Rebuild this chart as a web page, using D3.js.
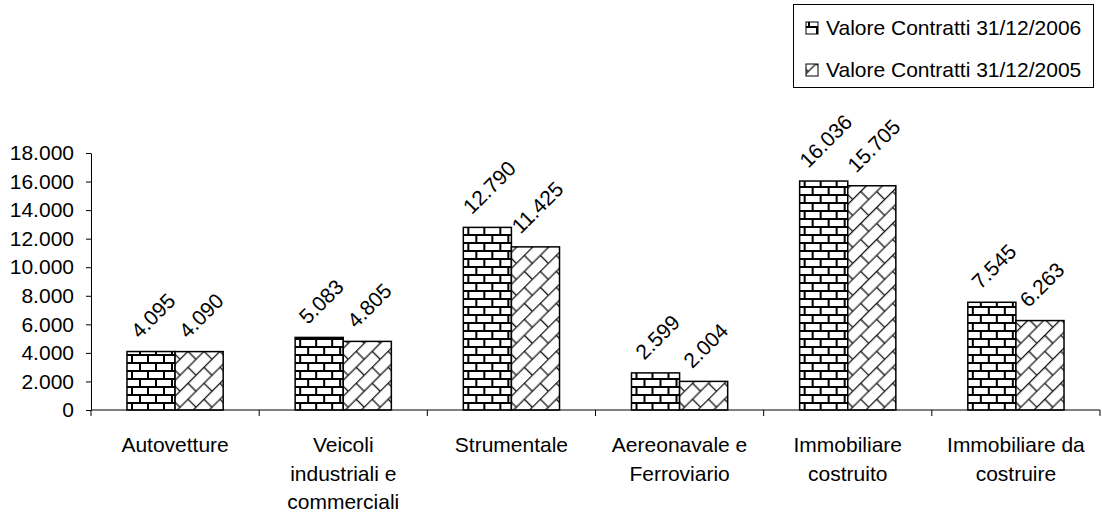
<!DOCTYPE html>
<html>
<head>
<meta charset="utf-8">
<script src="https://cdn.jsdelivr.net/npm/d3@7"></script>
<style>
  html, body { margin: 0; padding: 0; background: #fff; }
  svg { display: block; font-family: "Liberation Sans", Arial, sans-serif; }
</style>
</head>
<body>
<svg id="chart" width="1102" height="518"></svg>
<script>
// Portafoglio contratti per comparto (valori in migliaia)
const categories = [
  ["Autovetture"],
  ["Veicoli", "industriali e", "commerciali"],
  ["Strumentale"],
  ["Aereonavale e", "Ferroviario"],
  ["Immobiliare", "costruito"],
  ["Immobiliare da", "costruire"]
];
const seriesNames = ["Valore Contratti 31/12/2006", "Valore Contratti 31/12/2005"];
const values2006 = [4095, 5083, 12790, 2599, 16036, 7545];
const values2005 = [4090, 4805, 11425, 2004, 15705, 6263];
const yTicks = [0, 2000, 4000, 6000, 8000, 10000, 12000, 14000, 16000, 18000];

const series = [values2006, values2005];
const catKeys = categories.map(c => c.join(" "));

const it = d3.formatLocale({ decimal: ",", thousands: ".", grouping: [3], currency: ["€", ""] });
const fmt = it.format(",d");

const svg = d3.select("#chart");
const fontSize = 21;

// Plot area
const plotLeft = 91, plotRight = 1100, plotTop = 153, plotBottom = 410;

const y = d3.scaleLinear().domain([0, 18000]).range([plotBottom, plotTop]);
const x0 = d3.scaleBand().domain(catKeys).range([plotLeft, plotRight]).padding(0);
const bw = x0.bandwidth();
const x1 = d3.scaleBand().domain([0, 1]).range([bw * 0.214, bw * 0.786]).padding(0);

// Fill patterns: horizontal brick and wide upward-diagonal brick
const defs = svg.append("defs");

const brick = defs.append("pattern")
  .attr("id", "brick")
  .attr("patternUnits", "userSpaceOnUse")
  .attr("width", 16).attr("height", 16)
  .attr("y", plotBottom);
brick.append("rect").attr("width", 16).attr("height", 16).attr("fill", "#fff");
brick.append("path")
  .attr("d", "M0,1H16M0,9H16M1,1V9M9,9V17")
  .attr("stroke", "#000").attr("stroke-width", 2).attr("fill", "none");

const dw = 22.6, dh = 11.3;
const diag = defs.append("pattern")
  .attr("id", "diag")
  .attr("patternUnits", "userSpaceOnUse")
  .attr("width", dw).attr("height", dh * 2)
  .attr("patternTransform", "rotate(-45)");
diag.append("rect").attr("width", dw).attr("height", dh * 2).attr("fill", "#fff");
diag.append("path")
  .attr("d", `M0,0.6H${dw}M0,${dh + 0.6}H${dw}M1,0.6V${dh + 0.6}M${dw / 2 + 1},${dh + 0.6}V${dh * 2 + 0.6}`)
  .attr("stroke", "#111").attr("stroke-width", 1.3).attr("fill", "none");

const fills = ["url(#brick)", "url(#diag)"];

// Bars
const groups = svg.append("g").selectAll("g")
  .data(catKeys)
  .join("g")
  .attr("transform", d => `translate(${x0(d)},0)`);

groups.selectAll("rect")
  .data((d, i) => series.map((s, k) => ({ k, v: s[i] })))
  .join("rect")
  .attr("x", d => x1(d.k))
  .attr("y", d => y(d.v))
  .attr("width", x1.bandwidth())
  .attr("height", d => y(0) - y(d.v))
  .attr("fill", d => fills[d.k])
  .attr("stroke", "#000")
  .attr("stroke-width", 1.5);

// Value labels, rotated 45° above each bar
const labels = groups.selectAll("g.val")
  .data((d, i) => series.map((s, k) => ({ k, v: s[i] })))
  .join("g")
  .attr("class", "val");

labels.append("text")
  .attr("font-size", fontSize)
  .attr("fill", "#000")
  .attr("text-anchor", "middle")
  .attr("dy", "0.35em")
  .attr("transform", "rotate(-45)")
  .text(d => fmt(d.v));

labels.each(function (d) {
  const L = this.querySelector("text").getComputedTextLength();
  const box = (L + 15) * Math.SQRT1_2;
  const cx = x1(d.k) + x1.bandwidth() / 2 + 2;
  const cy = y(d.v) - 12 - box / 2;
  d3.select(this).attr("transform", `translate(${cx},${cy})`);
});

// Y axis
const yAxis = d3.axisLeft(y)
  .tickValues(yTicks)
  .tickFormat(d => fmt(d))
  .tickSize(5)
  .tickPadding(12)
  .tickSizeOuter(0);
const gy = svg.append("g").attr("transform", `translate(${plotLeft},0)`).call(yAxis);
gy.selectAll("text").attr("font-size", fontSize).attr("fill", "#000").attr("font-family", null);
gy.selectAll("line, path").attr("stroke", "#000");

// X axis: tick marks at category boundaries
const gx = svg.append("g");
gx.append("line")
  .attr("x1", plotLeft).attr("x2", plotRight)
  .attr("y1", plotBottom).attr("y2", plotBottom)
  .attr("stroke", "#000");
const bounds = catKeys.map(k => x0(k)).concat([plotRight]);
gx.selectAll("line.tick")
  .data(bounds)
  .join("line")
  .attr("class", "tick")
  .attr("x1", d => d).attr("x2", d => d)
  .attr("y1", plotBottom).attr("y2", plotBottom + 6)
  .attr("stroke", "#000");

// Category labels
const lineH = 28.5;
gx.selectAll("text.cat")
  .data(categories)
  .join("text")
  .attr("class", "cat")
  .attr("font-size", fontSize)
  .attr("fill", "#000")
  .attr("text-anchor", "middle")
  .attr("x", (d, i) => x0(catKeys[i]) + bw / 2)
  .attr("y", 452)
  .each(function (lines) {
    const t = d3.select(this);
    const xx = t.attr("x");
    lines.forEach((ln, j) => {
      t.append("tspan").attr("x", xx).attr("y", 452 + j * lineH).text(ln);
    });
  });

// Legend
const lg = svg.append("g");
lg.append("rect")
  .attr("x", 793.5).attr("y", 4.5)
  .attr("width", 300).attr("height", 83)
  .attr("fill", "#fff").attr("stroke", "#000");
seriesNames.forEach((name, k) => {
  const cy = 28 + k * 42;
  lg.append("rect")
    .attr("x", 806).attr("y", cy - 6)
    .attr("width", 12).attr("height", 12)
    .attr("fill", fills[k]).attr("stroke", "#000").attr("stroke-width", 1);
  lg.append("text")
    .attr("x", 826).attr("y", cy + 7)
    .attr("font-size", fontSize)
    .attr("fill", "#000")
    .text(name);
});
</script>
</body>
</html>
